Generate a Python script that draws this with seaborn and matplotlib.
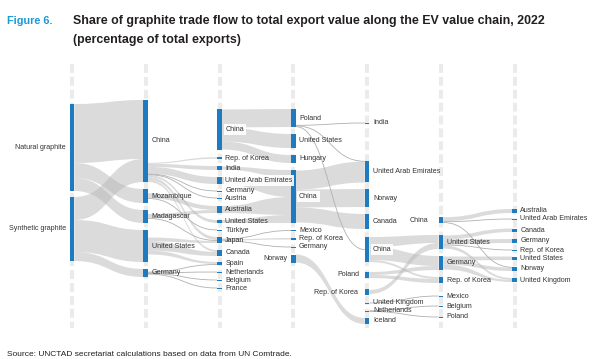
import matplotlib
matplotlib.use("Agg")
import matplotlib.pyplot as plt
from matplotlib.path import Path
from matplotlib.patches import PathPatch, Rectangle
import seaborn as sns

sns.set_theme(style="white")
plt.rcParams["font.family"] = ["Liberation Sans", "DejaVu Sans"]

# ---------------- data ----------------
col0_nodes = ["Natural graphite", "Synthetic graphite"]
col0_vals = [87, 64]
col1_nodes = ["China", "Mozambique", "Madagascar", "United States", "Germany"]
col1_vals = [82, 14, 13, 32, 8]
col2_nodes = ["China", "Rep. of Korea", "India", "United Arab Emirates", "Germany", "Austria",
              "Australia", "United States", "Türkiye", "Japan", "Canada", "Spain",
              "Netherlands", "Belgium", "France"]
col2_vals = [41, 1.5, 4, 7, 1, 1, 7, 3, 1, 6, 6, 3, 1, 1, 1]
col3_nodes = ["Poland", "United States", "Hungary", "China", "Mexico", "Rep. of Korea",
              "Germany", "Norway"]
col3_vals = [18, 14, 8, 53, 1, 1.5, 1, 8]
col4_nodes = ["India", "United Arab Emirates", "Norway", "Canada", "China", "Poland",
              "Rep. of Korea", "United Kingdom", "Netherlands", "Iceland"]
col4_vals = [1, 21, 18, 15, 25, 6, 6, 1, 1, 6]
col5_nodes = ["China", "United States", "Germany", "Rep. of Korea", "Mexico", "Belgium", "Poland"]
col5_vals = [6, 14, 14, 6, 1, 1, 1]
col6_nodes = ["Australia", "United Arab Emirates", "Canada", "Germany", "Rep. of Korea",
              "United States", "Norway", "United Kingdom"]
col6_vals = [4, 1, 3.5, 4, 1, 3.5, 4, 4]

# flows: (source, target, share at source, share at target)
flows_0_1 = [("Natural graphite", "China", 59, 59), ("Natural graphite", "Mozambique", 15, 14),
             ("Natural graphite", "Madagascar", 13, 13), ("Synthetic graphite", "China", 23, 23),
             ("Synthetic graphite", "United States", 32, 32), ("Synthetic graphite", "Germany", 9, 8)]
flows_1_2 = [("China", "Rep. of Korea", 1, 1.5), ("China", "India", 3, 4),
             ("China", "United Arab Emirates", 7, 7), ("China", "Germany", 0.6, 1),
             ("China", "Austria", 0.6, 1), ("China", "United States", 2, 3),
             ("China", "Japan", 3, 3), ("China", "Canada", 2, 2),
             ("Mozambique", "Australia", 5, 4), ("Mozambique", "Türkiye", 0.6, 1),
             ("Madagascar", "Australia", 4, 3), ("Madagascar", "Japan", 1, 1),
             ("United States", "Japan", 4, 2), ("United States", "Canada", 9, 4),
             ("United States", "Spain", 4, 2),
             ("Germany", "Spain", 1, 1), ("Germany", "Netherlands", 0.6, 1),
             ("Germany", "Belgium", 0.6, 1), ("Germany", "France", 0.6, 1)]
flows_2_3 = [("China", "Poland", 18, 18), ("China", "United States", 14, 14),
             ("China", "Hungary", 8, 8), ("India", "China", 3, 7),
             ("United Arab Emirates", "China", 7, 20), ("Australia", "China", 7, 18),
             ("United States", "China", 3, 8), ("Japan", "Mexico", 0.6, 1),
             ("Japan", "Rep. of Korea", 1, 1.5), ("Japan", "Germany", 0.6, 1)]
flows_3_4 = [("Poland", "India", 0.6, 1), ("Poland", "United Arab Emirates", 0.6, 0.6),
             ("Poland", "China", 0.8, 0.8), ("China", "United Arab Emirates", 19, 21),
             ("China", "Norway", 18, 18), ("China", "Canada", 15, 15),
             ("Norway", "Iceland", 8, 6)]
flows_4_5 = [("China", "United States", 10, 8), ("China", "Germany", 13, 10),
             ("China", "Rep. of Korea", 2, 2), ("Poland", "Germany", 3, 4),
             ("Poland", "Rep. of Korea", 3, 4), ("Rep. of Korea", "United States", 4, 6),
             ("United Kingdom", "Mexico", 0.6, 1), ("Netherlands", "Belgium", 0.6, 1),
             ("Netherlands", "Poland", 0.6, 1)]
flows_5_6 = [("China", "Australia", 4, 4), ("China", "United Arab Emirates", 1, 1),
             ("China", "Norway", 0.6, 0.6), ("United States", "Canada", 4, 3.5),
             ("United States", "Germany", 5, 4), ("United States", "Rep. of Korea", 1, 1),
             ("United States", "United Kingdom", 3, 2), ("Germany", "United States", 4, 3.5),
             ("Germany", "Norway", 4, 3.4), ("Germany", "United Kingdom", 5, 2)]

# ---------------- layout (style / positions) ----------------
col_gaps = [[104, 6],
            [100, 7, 7, 7, 7],
            [109, 7.25, 7.25, 7, 6.5, 6, 7.5, 7, 6.5, 6.5, 7, 6, 6.5, 7, 7],
            [109, 7, 7, 7, 7, 7, 7, 7],
            [122.5, 37.5, 7, 7, 8, 10, 11, 7.5, 7, 6.5],
            [217, 12, 7, 7, 12.5, 9, 10],
            [209, 5.5, 9, 7, 6.5, 6, 7, 7]]
X0, DX, BAR_W = 72.0, 73.77, 4.6
out_align = {(1, "China"): "bottom", (3, "Poland"): "bottom"}
left_labels = {(0, "Natural graphite"): 3.5, (0, "Synthetic graphite"): 3.5,
               (3, "Norway"): 3.5, (4, "Poland"): 5.5, (4, "Rep. of Korea"): 6.5,
               (5, "China"): 10.5}
boxed = {(2, "China"), (3, "China"), (4, "China"), (2, "United Arab Emirates")}

BLUE = "#1f7bbf"
LINK = "#b8b8b8"
TXT = "#333333"

cols_nodes = [col0_nodes, col1_nodes, col2_nodes, col3_nodes, col4_nodes, col5_nodes, col6_nodes]
cols_vals = [col0_vals, col1_vals, col2_vals, col3_vals, col4_vals, col5_vals, col6_vals]
all_flows = [flows_0_1, flows_1_2, flows_2_3, flows_3_4, flows_4_5, flows_5_6]

fig = plt.figure(figsize=(5.95, 3.59), dpi=100)
ax = fig.add_axes([0, 0, 1, 1])
ax.set_xlim(0, 595)
ax.set_ylim(359, 0)
ax.axis("off")

# node positions
pos = []
for c, (names, vals) in enumerate(zip(cols_nodes, cols_vals)):
    y = 0
    d = {}
    for name, v, g in zip(names, vals, col_gaps[c]):
        y += g
        d[name] = (y, y + v)
        y += v
    pos.append(d)
xs = [X0 + DX * c for c in range(len(cols_nodes))]

# dashed column guides
for x in xs:
    ax.plot([x, x], [63.5, 328], color="#ebebeb", lw=2.9, dashes=(2.2, 1.0),
            solid_capstyle="butt", zorder=0)


def band(x0, a0, b0, x1, a1, b1):
    xm = (x0 + x1) / 2
    if (b0 - a0) < 1.2 and (b1 - a1) < 1.2:
        c0, c1 = (a0 + b0) / 2, (a1 + b1) / 2
        p = Path([(x0, c0), (xm, c0), (xm, c1), (x1, c1)],
                 [Path.MOVETO, Path.CURVE4, Path.CURVE4, Path.CURVE4])
        ax.add_patch(PathPatch(p, fc="none", ec="#b0b0b0", lw=0.6, zorder=1))
        return
    verts = [(x0, a0), (xm, a0), (xm, a1), (x1, a1), (x1, b1), (xm, b1), (xm, b0), (x0, b0), (x0, a0)]
    codes = [Path.MOVETO, Path.CURVE4, Path.CURVE4, Path.CURVE4, Path.LINETO,
             Path.CURVE4, Path.CURVE4, Path.CURVE4, Path.CLOSEPOLY]
    ax.add_patch(PathPatch(Path(verts, codes), fc=LINK, ec="none", alpha=0.5, zorder=1))


for s, flows in enumerate(all_flows):
    src_pos, tgt_pos = pos[s], pos[s + 1]
    src_order = cols_nodes[s]
    tgt_order = cols_nodes[s + 1]
    src_cursor = {}
    for name in src_order:
        tot = sum(f[2] for f in flows if f[0] == name)
        top, bot = src_pos[name]
        al = out_align.get((s, name), "center" if tot < (bot - top) else "top")
        if al == "bottom":
            src_cursor[name] = bot - tot
        elif al == "center":
            src_cursor[name] = (top + bot) / 2 - tot / 2
        else:
            src_cursor[name] = top
    tgt_cursor = {}
    for name in tgt_order:
        tot = sum(f[3] for f in flows if f[1] == name)
        top, bot = tgt_pos[name]
        tgt_cursor[name] = top if tot >= (bot - top) - 0.01 else (top + bot) / 2 - tot / 2
    seg_src = {}
    for f in sorted(flows, key=lambda f: (src_order.index(f[0]), tgt_order.index(f[1]))):
        a = src_cursor[f[0]]
        src_cursor[f[0]] = a + f[2]
        seg_src[(f[0], f[1])] = (a, a + f[2])
    for f in sorted(flows, key=lambda f: (tgt_order.index(f[1]), src_order.index(f[0]))):
        a = tgt_cursor[f[1]]
        tgt_cursor[f[1]] = a + f[3]
        a0, b0 = seg_src[(f[0], f[1])]
        band(xs[s] + BAR_W / 2, a0, b0, xs[s + 1] - BAR_W / 2, a, a + f[3])

# nodes + labels
for c, d in enumerate(pos):
    for name, (top, bot) in d.items():
        ax.add_patch(Rectangle((xs[c] - BAR_W / 2, top), BAR_W, bot - top,
                               fc=BLUE, ec="none", zorder=3))
        yc = (top + bot) / 2
        kw = dict(fontsize=5.1, color=TXT, va="center", zorder=4)
        if (c, name) in boxed:
            kw["bbox"] = dict(boxstyle="square,pad=0.25", fc="white", ec="none", alpha=0.9)
        if (c, name) in left_labels:
            ax.text(xs[c] - BAR_W / 2 - left_labels[(c, name)], yc, name, ha="right", **kw)
        else:
            ax.text(xs[c] + BAR_W / 2 + 3.5, yc, name, ha="left", **kw)

# titles
ax.text(7, 21, "Figure 6.", fontweight="bold", fontsize=7.8,
        color="#1a9ad6", va="center", ha="left")
ax.text(73, 21, "Share of graphite trade flow to total export value along the EV value chain, 2022",
        fontweight="bold", fontsize=8.95, color="#231f20", va="center", ha="left")
ax.text(73, 39.5, "(percentage of total exports)", fontweight="bold", fontsize=8.95,
        color="#231f20", va="center", ha="left")
ax.text(7, 358.5, "Source: UNCTAD secretariat calculations based on data from UN Comtrade.",
        fontsize=6, color="#231f20", va="bottom", ha="left")

fig.savefig("out.png", dpi=100)
